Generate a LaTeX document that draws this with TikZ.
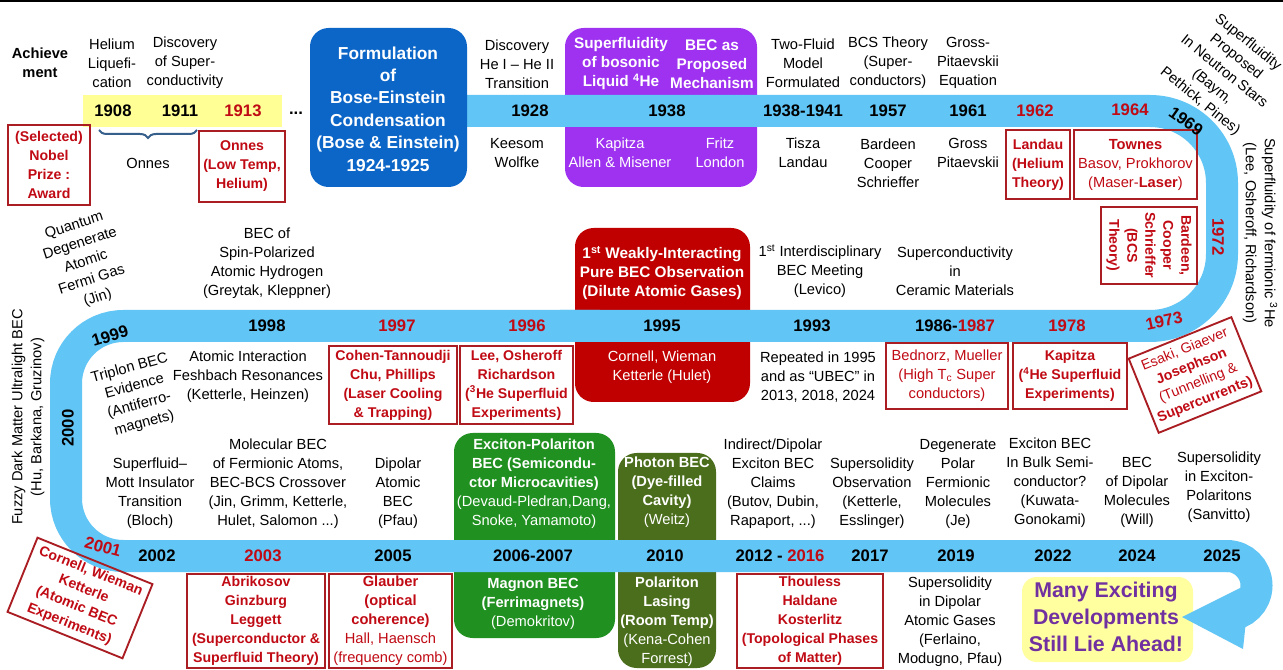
\documentclass[tikz,border=0pt]{standalone}
\usepackage{fontspec}
\setmainfont{Liberation Sans}
\usetikzlibrary{fit,decorations.pathreplacing}
\definecolor{bandblue}{RGB}{97,197,245}
\definecolor{bosblue}{RGB}{12,102,200}
\definecolor{purp}{RGB}{158,50,240}
\definecolor{bigred}{RGB}{192,0,0}
\definecolor{boxred}{RGB}{170,30,35}
\definecolor{txtred}{RGB}{192,10,20}
\definecolor{grnA}{RGB}{32,145,32}
\definecolor{grnB}{RGB}{75,110,28}
\definecolor{yelA}{RGB}{255,255,150}
\definecolor{yelB}{RGB}{255,255,160}
\definecolor{mpurp}{RGB}{112,48,160}
\definecolor{bracec}{RGB}{55,95,140}
\newcommand{\fN}{\fontsize{11}{14.25}\selectfont}
\newcommand{\fB}{\fontsize{10.6}{14.25}\selectfont\bfseries}
\newcommand{\fY}{\fontsize{12.5}{15}\selectfont\bfseries}
\begin{document}
\begin{tikzpicture}[x=0.75pt,y=-0.75pt,
 txt/.style={align=center,inner sep=0pt,font=\fN},
 wtxt/.style={txt,text=white},
 wbtxt/.style={align=center,inner sep=0pt,font=\fontsize{11.5}{14.25}\selectfont\bfseries,text=white},
 yr/.style={inner sep=0pt,font=\fY},
 ryr/.style={yr,text=txtred},
 rframe/.style={draw=boxred,line width=1.4pt,inner sep=0pt},
 rt/.style={align=center,inner sep=0pt,text=txtred,font=\fN},
 rbt/.style={align=center,inner sep=0pt,text=txtred,font=\fB},
 rbox/.style={rframe,align=center,text=txtred,font=\fN},
 cbox/.style={rounded corners=14pt,inner sep=0pt,draw=none},
 bandline/.style={draw=bandblue,line width=24pt,line cap=butt}]
\useasboundingbox (0,0) rectangle (1283,670);
\fill[white] (0,0) rectangle (1283,670);
\draw[line width=1.5pt] (0,1) -- (1283,1);

% coloured boxes behind the band
\node[cbox, fill=purp, fit={(565,28)(757,187)}] (purplebox) {};
\node[cbox, fill=bigred, fit={(575,228)(750,402)}] (redbox) {};
\node[cbox, fill=grnA, fit={(454,433)(615,638)}] (greenA) {};
\node[cbox, fill=grnB, fit={(618,453)(716,668)}] (greenB) {};
\node[cbox, rounded corners=11pt, fill=yelB, fit={(1022,577)(1193,662)}] (ahead) {};

% band
\draw[bandline, rounded corners=54pt] (440,111) -- (1222,111) -- (1222,326) -- (560,326);
\draw[bandline, rounded corners=43pt] (600,326) -- (66,326) -- (66,556) -- (1228,556);
\draw[bandline] (1227,556) arc[start angle=-90,end angle=90,radius=29.5];
\fill[bandblue] (1182,617) -- (1250,583) -- (1243,649) -- cycle;

% blue box and yellow strip
\node[cbox, fill=bosblue, fit={(310,28)(467,187)}] (bluebox) {};
\node[align=center,inner sep=0pt,text=white,font=\fontsize{13}{16.8}\selectfont\bfseries] (bosetxt) at (388,109) {Formulation\\of\\Bose-Einstein\\Condensation\\(Bose \& Einstein)\\1924-1925};
\node[fill=yelA, inner sep=0pt, fit={(83,95)(282,127)}] (ystrip) {};

% ---------- top row ----------
\node[align=center,inner sep=0pt,font=\fontsize{11}{14.25}\selectfont\bfseries] (ach) at (40,63) {Achieve\\ment};
\node[txt] (hel) at (112,63) {Helium\\Liquefi-\\cation};
\node[txt] (dis) at (185,63) {Discovery\\of Super-\\conductivity};
\node[yr] (y1908) at (113,111) {1908};
\node[yr] (y1911) at (180,111) {1911};
\node[ryr] (y1913) at (243,111) {1913};
\node[yr] (dots) at (296,113) {...};
\coordinate (brL) at (99,130);
\coordinate (brR) at (197,130);
\draw[decorate,decoration={brace,mirror,amplitude=6pt},draw=bracec,line width=1.5pt] (brL) -- (brR);
\node[txt] (onnesA) at (148,163) {Onnes};
\node[rframe, fit={(8,125)(90,205)}] (nobel) {};
\node[rbt] (nobelt) at (nobel.center) {(Selected)\\Nobel\\Prize :\\Award};
\node[rframe, fit={(199,131)(285,202)}] (onnesB) {};
\node[rbt] (onnesBt) at (onnesB.center) {Onnes\\(Low Temp,\\Helium)};

\node[txt] (dhe) at (517,64) {Discovery\\He I -- He II\\Transition};
\node[yr] (y1928) at (530,111) {1928};
\node[txt] (kw) at (517,153) {Keesom\\Wolfke};

\node[wbtxt] (sup) at (621,64) {Superfluidity\\of bosonic\\Liquid \textsuperscript{4}He};
\node[wbtxt] (becm) at (712,64) {BEC as\\Proposed\\Mechanism};
\node[yr] (y1938) at (667,111) {1938};
\node[wtxt] (kam) at (620,153) {Kapitza\\Allen \& Misener};
\node[wtxt] (fl) at (720,153) {Fritz\\London};

\node[txt] (tf) at (803,63) {Two-Fluid\\Model\\Formulated};
\node[yr] (y3841) at (803,111) {1938-1941};
\node[txt] (tl) at (803,153) {Tisza\\Landau};
\node[txt] (bcs) at (888,63) {BCS Theory\\(Super-\\conductors)};
\node[yr] (y1957) at (888,111) {1957};
\node[txt] (bcsn) at (888,163) {Bardeen\\Cooper\\Schrieffer};
\node[txt] (gp) at (968,63) {Gross-\\Pitaevskii\\Equation};
\node[yr] (y1961) at (968,111) {1961};
\node[txt] (gpn) at (968,153) {Gross\\Pitaevskii};
\node[ryr] (y1962) at (1035,111) {1962};
\node[rframe, fit={(1006,130)(1070,199)}] (landau) {};
\node[rbt] (landaut) at (landau.center) {Landau\\(Helium\\Theory)};
\node[ryr] (y1964) at (1130,110) {1964};
\node[rframe, fit={(1074,130)(1197,199)}] (townes) {};
\node[rt] (townest) at (townes.center) {\textbf{Townes}\\Basov, Prokhorov\\(Maser-\textbf{Laser})};
\node[yr, rotate=-35] (y1969) at (1186,121) {1969};
\node[txt, rotate=-39] (ns) at (1224,72) {Superfluidity\\Proposed\\In Neutron Stars\\(Baym,\\Pethick, Pines)};
\node[txt, rotate=-90] (fer) at (1260,233) {Superfluidity of fermionic \textsuperscript{3}He\\(Lee, Osheroff, Richardson)};
\node[ryr, rotate=-90] (y1972) at (1218,237) {1972};
\node[rbox, rotate=-90, minimum width=57.75pt, minimum height=72pt, font=\fontsize{10.6}{13.5}\selectfont\bfseries] (bcsbox) at (1149,245.5) {Bardeen,\\Cooper\\Schrieffer\\(BCS\\Theory)};

% ---------- middle row ----------
\node[txt, rotate=18] (qd) at (86,262) {Quantum\\Degenerate\\Atomic\\Fermi Gas\\(Jin)};
\node[txt] (bsp) at (267,263) {BEC of\\Spin-Polarized\\Atomic Hydrogen\\(Greytak, Kleppner)};
\node[yr] (y1998) at (267,326) {1998};
\node[yr, rotate=17] (y1999) at (110,336) {1999};
\node[txt, rotate=15] (tri) at (137,396) {Triplon BEC\\Evidence\\(Antiferro-\\magnets)};
\node[txt] (fesh) at (248,377) {Atomic Interaction\\Feshbach Resonances\\(Ketterle, Heinzen)};
\node[ryr] (y1997) at (397,326) {1997};
\node[rframe, fit={(329,346)(457,424)}] (b1997) {};
\node[rbt] (b1997t) at (b1997.center) {Cohen-Tannoudji\\Chu, Phillips\\(Laser Cooling\\\& Trapping)};
\node[ryr] (y1996) at (527,326) {1996};
\node[rframe, fit={(460,346)(573,424)}] (b1996) {};
\node[rbt] (b1996t) at (b1996.center) {Lee, Osheroff\\Richardson\\(\textsuperscript{3}He Superfluid\\Experiments)};
\node[wbtxt] (w1) at (662,273) {1\textsuperscript{st} Weakly-Interacting\\Pure BEC Observation\\(Dilute Atomic Gases)};
\node[yr] (y1995) at (662,326) {1995};
\node[wtxt] (cw) at (662,367) {Cornell, Wieman\\Ketterle (Hulet)};
\node[txt] (ibm) at (820,271) {1\textsuperscript{st} Interdisciplinary\\BEC Meeting\\(Levico)};
\node[yr] (y1993) at (812,326) {1993};
\node[txt] (rep) at (818,377) {Repeated in 1995\\and as “UBEC” in\\2013, 2018, 2024};
\node[txt] (sc) at (955,271) {Superconductivity\\in\\Ceramic Materials};
\node[yr] (y1986) at (955,326) {1986-\textcolor{txtred}{1987}};
\node[rframe, fit={(886,343)(1008,409)}] (b1987) {};
\node[rt] (b1987t) at (b1987.center) {Bednorz, Mueller\\(High T\textsubscript{c} Super\\conductors)};
\node[ryr] (y1978) at (1067,326) {1978};
\node[rframe, fit={(1013,343)(1127,409)}] (b1978) {};
\node[rbt] (b1978t) at (b1978.center) {Kapitza\\(\textsuperscript{4}He Superfluid\\Experiments)};
\node[ryr, rotate=12] (y1973) at (1164,321) {1973};
\node[rbox, rotate=22, minimum width=83pt, minimum height=60pt, font=\fontsize{10.6}{13.5}\selectfont] (esaki) at (1195,375) {Esaki, Giaever\\\textbf{Josephson}\\(Tunnelling \&\\\textbf{Supercurrents)}};

% ---------- bottom row ----------
\node[txt, rotate=90] (fuzzy) at (28,417) {Fuzzy Dark Matter Ultralight BEC\\(Hu, Barkana, Gruzinov)};
\node[yr, rotate=90] (y2000) at (68,428) {2000};
\node[txt] (smi) at (150,493) {Superfluid--\\Mott Insulator\\Transition\\(Bloch)};
\node[txt] (mol) at (278,484) {Molecular BEC\\of Fermionic Atoms,\\BEC-BCS Crossover\\(Jin, Grimm, Ketterle,\\Hulet, Salomon ...)};
\node[txt] (dab) at (398,493) {Dipolar\\Atomic\\BEC\\(Pfau)};
\node[ryr, rotate=-15] (y2001) at (103,547) {2001};
\node[yr] (y2002) at (157,556) {2002};
\node[ryr] (y2003) at (263,556) {2003};
\node[yr] (y2005) at (393,556) {2005};
\node[rbox, rotate=-22, minimum width=93pt, minimum height=60pt, font=\fB] (cwk) at (80,598) {Cornell, Wieman\\Ketterle\\(Atomic BEC\\Experiments)};
\node[rframe, fit={(187,574)(325,668)}] (b2003) {};
\node[rbt] (b2003t) at (b2003.center) {Abrikosov\\Ginzburg\\Leggett\\(Superconductor \&\\Superfluid Theory)};
\node[rframe, fit={(329,574)(452,668)}] (b2005) {};
\node[rt] (b2005t) at (b2005.center) {\textbf{Glauber}\\\textbf{(optical}\\\textbf{coherence)}\\Hall, Haensch\\(frequency comb)};
\node[wtxt] (ep) at (534,484) {\textbf{Exciton-Polariton}\\\textbf{BEC (Semicondu-}\\\textbf{ctor Microcavities)}\\(Devaud-Pledran,Dang,\\Snoke, Yamamoto)};
\node[yr] (y2006) at (533,556) {2006-2007};
\node[wtxt] (mag) at (533,604) {\textbf{Magnon BEC}\\\textbf{(Ferrimagnets)}\\(Demokritov)};
\node[wtxt] (ph) at (667,492) {\textbf{Photon BEC}\\\textbf{(Dye-filled}\\\textbf{Cavity)}\\(Weitz)};
\node[yr] (y2010) at (665,556) {2010};
\node[wtxt] (pl) at (667,622) {\textbf{Polariton}\\\textbf{Lasing}\\\textbf{(Room Temp)}\\(Kena-Cohen\\Forrest)};
\node[txt] (idx) at (773,484) {Indirect/Dipolar\\Exciton BEC\\Claims\\(Butov, Dubin,\\Rapaport, ...)};
\node[yr] (y2012) at (780,556) {2012 - \textcolor{txtred}{2016}};
\node[rframe, fit={(737,574)(883,668)}] (b2016) {};
\node[rbt] (b2016t) at (b2016.center) {Thouless\\Haldane\\Kosterlitz\\(Topological Phases\\of Matter)};
\node[txt] (sso) at (872,493) {Supersolidity\\Observation\\(Ketterle,\\Esslinger)};
\node[yr] (y2017) at (870,556) {2017};
\node[txt] (dpf) at (958,484) {Degenerate\\Polar\\Fermionic\\Molecules\\(Je)};
\node[yr] (y2019) at (956,556) {2019};
\node[txt] (ssd) at (950,622) {Supersolidity\\in Dipolar\\Atomic Gases\\(Ferlaino,\\Modugno, Pfau)};
\node[txt] (ebb) at (1050,483) {Exciton BEC\\In Bulk Semi-\\conductor?\\(Kuwata-\\Gonokami)};
\node[yr] (y2022) at (1053,556) {2022};
\node[txt] (bdm) at (1137,492) {BEC\\of Dipolar\\Molecules\\(Will)};
\node[yr] (y2024) at (1137,556) {2024};
\node[txt] (sep) at (1219,487) {Supersolidity\\in Exciton-\\Polaritons\\(Sanvitto)};
\node[yr] (y2025) at (1222,556) {2025};
\node[align=center, inner sep=0pt, text=mpurp, font=\fontsize{16}{20}\selectfont\bfseries] (aheadt) at (1106,617) {Many Exciting\\Developments\\Still Lie Ahead!};
\end{tikzpicture}
\end{document}
